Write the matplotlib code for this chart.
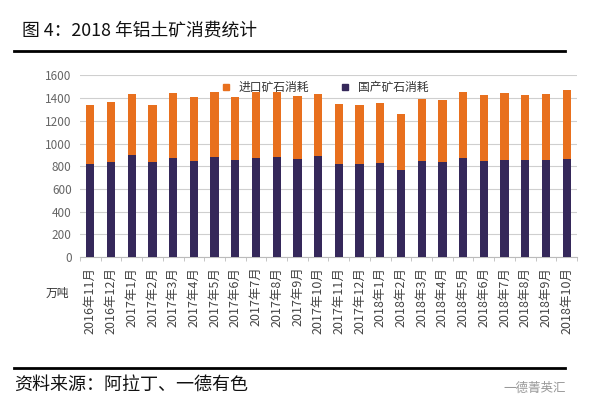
import matplotlib.pyplot as plt
import numpy as np
from matplotlib.lines import Line2D

plt.rcParams['font.family'] = ['Noto Sans CJK SC', 'DejaVu Sans']

#%% data

months = ["2016年11月", "2016年12月", "2017年1月", "2017年2月", "2017年3月",
          "2017年4月", "2017年5月", "2017年6月", "2017年7月", "2017年8月",
          "2017年9月", "2017年10月", "2017年11月", "2017年12月", "2018年1月",
          "2018年2月", "2018年3月", "2018年4月", "2018年5月", "2018年6月",
          "2018年7月", "2018年8月", "2018年9月", "2018年10月"]

domestic = [819, 840, 899, 834, 869, 842, 878, 851, 869, 878, 860, 887,
            822, 822, 831, 769, 848, 834, 875, 848, 857, 857, 857, 866]

total = [1339, 1362, 1436, 1339, 1445, 1410, 1454, 1410, 1454, 1454, 1421, 1436,
         1348, 1339, 1357, 1260, 1397, 1380, 1454, 1427, 1445, 1427, 1436, 1471]

imported = [t - d for t, d in zip(total, domestic)]

yticks = [0, 200, 400, 600, 800, 1000, 1200, 1400, 1600]

#%% figure

c_orange = "#E8701E"
c_dark = "#35285A"

fig = plt.figure(figsize=(5.92, 4.19), dpi=100)
ax = fig.add_axes([80/592, 1 - 257/419, 497/592, 181.5/419])

x = np.arange(len(months))
ax.bar(x, domestic, width=0.4, color=c_dark, zorder=3, label="国产矿石消耗")
ax.bar(x, imported, width=0.4, bottom=domestic, color=c_orange, zorder=3,
       label="进口矿石消耗")

ax.set_xlim(-0.5, len(months) - 0.5)
ax.set_ylim(0, 1600)
ax.set_yticks(yticks)
ax.tick_params(axis='y', length=0, labelsize=8.5, labelcolor="#666666", pad=6)
ax.yaxis.grid(True, color="#cfcfcf", linewidth=0.8, zorder=0)

ax.set_xticks(x)
ax.set_xticklabels(months, rotation=90, fontsize=9, color="#444444")
ax.tick_params(axis='x', length=0, pad=7)
ax.set_xticks(np.arange(-0.5, len(months)), minor=True)
ax.tick_params(axis='x', which='minor', length=3, color="#bbbbbb")

for side in ["top", "right", "left"]:
    ax.spines[side].set_visible(False)
ax.spines["bottom"].set_color("#bbbbbb")

# legend
handles = [Line2D([], [], marker='s', linestyle='', color=c_orange, markersize=5),
           Line2D([], [], marker='s', linestyle='', color=c_dark, markersize=5)]
ax.legend(handles, ["进口矿石消耗", "国产矿石消耗"], ncol=2, loc='center',
          bbox_to_anchor=(0.485, 0.935), frameon=False, fontsize=8.5,
          handletextpad=0.1, columnspacing=2.0, labelcolor="#333333")

# unit
fig.text(57/592, 1 - 293/419, "万吨", fontsize=8.5, color="#333333",
         ha='center', va='center')

# title and frame lines
fig.text(22/592, 1 - 31/419, "图 4：2018 年铝土矿消费统计", fontsize=12.8,
         color="#111111", va='center')
fig.add_artist(Line2D([14/592, 565/592], [1 - 51/419, 1 - 51/419],
                      color="black", linewidth=2))
fig.add_artist(Line2D([14/592, 565/592], [1 - 368/419, 1 - 368/419],
                      color="black", linewidth=2))
fig.text(14/592, 1 - 385/419, "资料来源：阿拉丁、一德有色", fontsize=13,
         color="#111111", va='center')
fig.text(566/592, 1 - 388/419, "一德菁英汇", fontsize=9, color="#999999",
         ha='right', va='center')

fig.savefig("out.png", dpi=100)
